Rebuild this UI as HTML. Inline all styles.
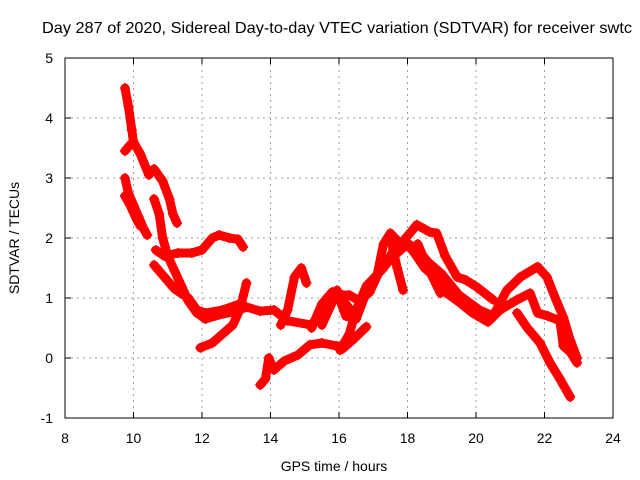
<!DOCTYPE html>
<html><head><meta charset="utf-8"><style>
body{margin:0;background:#fff;}
svg{display:block;font-family:"Liberation Sans",sans-serif;}
</style></head><body>
<svg id="chart" width="640" height="480">
<text x="42" y="33" font-size="16" textLength="590" lengthAdjust="spacingAndGlyphs">Day 287 of 2020, Sidereal Day-to-day VTEC variation (SDTVAR) for receiver swtc</text>
<g id="grid"></g>
<g id="ticks"></g>
<g id="series"></g>
<rect x="65" y="58" width="548" height="360" fill="none" stroke="#000"/>
<text x="334" y="471" font-size="14" text-anchor="middle">GPS time / hours</text>
<text transform="translate(19,238) rotate(-90)" font-size="14" text-anchor="middle">SDTVAR / TECUs</text>
</svg>
<script>
const xTicks=[8,10,12,14,16,18,20,22,24];
const yTicks=[-1,0,1,2,3,4,5];
const trackA=[[9.75,4.5],[9.85,4.2],[9.95,3.8],[10.0,3.6],[10.2,3.4],[10.45,3.05]];
const trackA2=[[9.75,3.45],[9.9,3.55],[10.0,3.6]];
const trackB=[[9.75,3.0],[9.85,2.75],[10.0,2.55],[10.15,2.35],[10.3,2.15],[10.4,2.05]];
const trackB2=[[9.75,2.7],[9.9,2.55],[10.1,2.3],[10.2,2.2]];
const trackC=[[10.6,3.15],[10.85,2.95],[11.05,2.65],[11.15,2.4],[11.27,2.25]];
const trackD=[[10.6,2.65],[10.75,2.4],[10.85,2.0],[11.0,1.7],[11.2,1.45],[11.4,1.2],[11.6,0.95],[11.85,0.75],[12.1,0.65],[12.5,0.72],[13.0,0.78],[13.3,0.85],[13.7,0.78],[14.1,0.8],[14.5,0.62],[15.2,0.55],[15.5,0.8]];
const trackE=[[10.65,1.8],[10.9,1.7],[11.3,1.75],[11.7,1.75],[12.0,1.8],[12.3,2.0],[12.5,2.05],[12.8,2.0],[13.05,1.98],[13.2,1.85]];
const trackF=[[10.6,1.55],[10.9,1.35],[11.2,1.15],[11.6,1.0],[11.85,0.8],[12.1,0.75],[12.6,0.8],[13.1,0.9]];
const trackG=[[11.95,0.17],[12.3,0.25],[12.6,0.4],[12.9,0.55],[13.1,0.8],[13.3,1.25]];
const trackH=[[13.7,-0.45],[13.85,-0.35],[13.95,0.0],[14.1,-0.2],[14.4,-0.05],[14.8,0.05],[15.15,0.22],[15.5,0.25],[15.94,0.2],[16.1,0.15],[16.4,0.3],[16.8,0.52]];
const trackI=[[14.3,0.55],[14.5,0.8],[14.7,1.35],[14.9,1.5],[15.05,1.25]];
const trackJ=[[15.2,0.5],[15.5,0.9],[15.8,1.1],[16.1,1.05],[16.3,1.05],[16.6,0.95],[16.9,1.1],[17.1,1.35],[17.3,1.9],[17.5,2.08],[17.8,1.9],[18.07,2.08],[18.27,2.22],[18.65,2.1],[18.85,2.08],[19.1,1.7],[19.45,1.35],[19.7,1.3],[20.03,1.18],[20.5,0.97]];
const trackK=[[15.5,0.55],[15.94,1.1],[16.2,0.7],[16.5,0.65],[16.8,1.1],[17.2,1.45],[17.6,1.7],[18.0,1.9],[18.2,1.75],[18.5,1.5],[18.8,1.35],[19.1,1.1],[19.53,0.92],[19.9,0.75],[20.35,0.6],[20.7,0.8],[21.2,0.97],[21.58,1.08],[21.8,0.75],[22.1,0.7],[22.45,0.62],[22.55,0.2],[22.75,0.1],[22.95,-0.08]];
const trackL=[[16.03,0.13],[16.3,0.4],[16.5,0.8],[16.8,1.2],[17.3,1.5],[17.6,1.8],[17.9,1.95],[18.3,1.8],[18.6,1.6],[19.0,1.4],[19.5,1.05],[20.1,0.8],[20.5,0.7],[20.9,1.13],[21.3,1.35],[21.8,1.52],[22.07,1.35],[22.35,0.95],[22.55,0.68],[22.75,0.3],[22.95,0.0]];
const trackM=[[21.2,0.75],[21.5,0.5],[21.87,0.25],[22.16,-0.08],[22.45,-0.35],[22.75,-0.65]];
const trackN=[[17.5,2.0],[17.7,1.5],[17.87,1.13]];
const trackO=[[18.3,1.9],[18.6,1.5],[18.96,1.08]];
const trackP=[[15.94,1.13],[16.2,0.9],[16.4,0.75]];
const tracks=[trackA,trackA2,trackB,trackB2,trackC,trackD,trackE,trackF,trackG,trackH,trackI,trackJ,trackK,trackL,trackM,trackN,trackO,trackP];
const X0=65,X1=613,Y0=418,Y1=58,xmin=8,xmax=24,ymin=-1,ymax=5;
function xs(t){return X0+(t-xmin)/(xmax-xmin)*(X1-X0);}
function ys(v){return Y0-(v-ymin)/(ymax-ymin)*(Y0-Y1);}
const NS='http://www.w3.org/2000/svg';
const grid=document.getElementById('grid'),ticks=document.getElementById('ticks'),ser=document.getElementById('series');
function mk(tag,attrs,parent){const e=document.createElementNS(NS,tag);for(const k in attrs)e.setAttribute(k,attrs[k]);parent.appendChild(e);return e;}
xTicks.forEach(t=>{const x=xs(t);
 if(t>xmin&&t<xmax){const g=mk('line',{x1:x,x2:x,y1:Y1,y2:Y0,stroke:'#a0a0a0','stroke-dasharray':'2,4'},grid);
 
 }
 const tk=mk('path',{d:`M${x},${Y0}v-6M${x},${Y1}v6`,stroke:'#000'},ticks);
 
 
 const l=mk('text',{x:x,y:443,'font-size':14,'text-anchor':'middle'},ticks);l.textContent=t;
 
 });
yTicks.forEach(v=>{const y=ys(v);
 if(v>ymin&&v<ymax){const g=mk('line',{x1:X0,x2:X1,y1:y,y2:y,stroke:'#a0a0a0','stroke-dasharray':'2,4'},grid);
 
 }
 const tk=mk('path',{d:`M${X0},${y}h6M${X1},${y}h-6`,stroke:'#000'},ticks);
 
 
 const l=mk('text',{x:53,y:y+5,'font-size':14,'text-anchor':'end'},ticks);l.textContent=v;
 
 });
tracks.forEach((tr,i)=>{
 const p=mk('polyline',{points:tr.map(d=>xs(d[0])+','+ys(d[1])).join(' '),fill:'none',stroke:'#ff0000','stroke-width':9,'stroke-linejoin':'round','stroke-linecap':'round'},ser);
 
 
 tr.forEach(d=>{const x=xs(d[0]),y=ys(d[1]);
  const m=mk('path',{d:`M${x-5},${y}h10M${x},${y-5}v10`,stroke:'#ff0000','stroke-width':1.5},ser);
  
  });
});
</script>
</body></html>
